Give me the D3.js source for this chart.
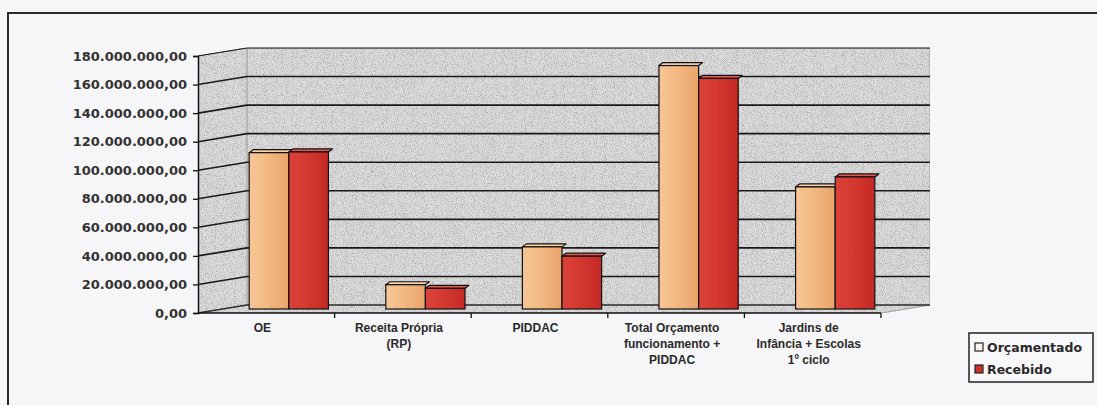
<!DOCTYPE html>
<html>
<head>
<meta charset="utf-8">
<script src="https://cdn.jsdelivr.net/npm/d3@7"></script>
<style>
  html, body { margin: 0; padding: 0; background: #f6f6f8; }
  svg { display: block; }
</style>
</head>
<body>
<svg id="chart" width="1097" height="405"></svg>
<script>
const categories = ["OE", "Receita Própria\n(RP)", "PIDDAC", "Total Orçamento\nfuncionamento +\nPIDDAC", "Jardins de\nInfância + Escolas\n1º ciclo"];
const seriesNames = ["Orçamentado", "Recebido"];
const orcamentado = [109500000, 17000000, 43500000, 170500000, 85500000];
const recebido = [110000000, 14500000, 37000000, 161500000, 92500000];
const yTicks = [0, 20000000, 40000000, 60000000, 80000000, 100000000, 120000000, 140000000, 160000000, 180000000];

const svg = d3.select("#chart");

const loc = d3.formatLocale({decimal: ",", thousands: ".", grouping: [3], currency: ["€", ""]});
const fmt = loc.format(",.2f");

// geometry
const x0 = 198, x1 = 881, yBase = 313, yTop = 56;
const DX = 49, DY = -8;
const x = d3.scaleBand().domain(categories).range([x0, x1]);
const y = d3.scaleLinear().domain([0, 180000000]).range([yBase, yTop]);
const xs = d3.scaleBand().domain(seriesNames).range([0, x.bandwidth() * 0.58]);

const defs = svg.append("defs");
const f = defs.append("filter").attr("id", "noise").attr("x", 0).attr("y", 0).attr("width", 1).attr("height", 1);
f.append("feTurbulence").attr("type", "fractalNoise").attr("baseFrequency", 1.1).attr("numOctaves", 2).attr("seed", 4).attr("result", "t");
f.append("feColorMatrix").attr("in", "t").attr("type", "matrix")
  .attr("values", "0 0 0 0 0.4  0 0 0 0 0.4  0 0 0 0 0.4  2.6 0 0 0 -1.1").attr("result", "n");
f.append("feComposite").attr("in", "n").attr("in2", "SourceGraphic").attr("operator", "in").attr("result", "n2");
f.append("feTurbulence").attr("type", "fractalNoise").attr("baseFrequency", 1.0).attr("numOctaves", 1).attr("seed", 9).attr("result", "t2");
f.append("feColorMatrix").attr("in", "t2").attr("type", "matrix")
  .attr("values", "0 0 0 0 1  0 0 0 0 1  0 0 0 0 1  3 0 0 0 -1.2").attr("result", "w");
f.append("feComposite").attr("in", "w").attr("in2", "SourceGraphic").attr("operator", "in").attr("result", "w2");
const fm = f.append("feMerge");
fm.append("feMergeNode").attr("in", "SourceGraphic");
fm.append("feMergeNode").attr("in", "w2");
fm.append("feMergeNode").attr("in", "n2");

function grad(id, stops) {
  const g = defs.append("linearGradient").attr("id", id).attr("x1", 0).attr("x2", 1).attr("y1", 0).attr("y2", 0);
  stops.forEach(s => g.append("stop").attr("offset", s[0]).attr("stop-color", s[1]));
}
grad("gO", [[0, "#f6c596"], [0.35, "#f4bd88"], [1, "#e8a46a"]]);
grad("gR", [[0, "#d9433a"], [0.4, "#d63a31"], [1, "#c32a24"]]);
const fills = {"Orçamentado": "url(#gO)", "Recebido": "url(#gR)"};
const topFills = {"Orçamentado": "#f9d3ad", "Recebido": "#e2584c"};

// outer frame
svg.append("path").attr("d", `M8,405 L8,13 L1097,13`).attr("fill", "none").attr("stroke", "#2a2a2a").attr("stroke-width", 2);

// walls
const P = (px, py, d) => [px + DX * d, py + DY * d];
const wallStyle = s => s.attr("fill", "#cdcdcd").attr("filter", "url(#noise)").attr("stroke", "#555").attr("stroke-width", 1);
wallStyle(svg.append("polygon").attr("points", [P(x0, yBase, 1), P(x1, yBase, 1), P(x1, yTop, 1), P(x0, yTop, 1)].join(" ")));
wallStyle(svg.append("polygon").attr("points", [P(x0, yBase, 0), P(x0, yBase, 1), P(x0, yTop, 1), P(x0, yTop, 0)].join(" ")));
wallStyle(svg.append("polygon").attr("points", [P(x0, yBase, 0), P(x1, yBase, 0), P(x1, yBase, 1), P(x0, yBase, 1)].join(" ")));

// gridlines
const grid = svg.append("g");
yTicks.forEach(t => {
  const yy = y(t);
  const a = P(x0, yy, 0), b = P(x0, yy, 1), c = P(x1, yy, 1);
  grid.append("path").attr("d", `M${a}L${b}L${c}`).attr("fill", "none")
    .attr("stroke", t === 0 ? "#333" : "#1a1a1a").attr("stroke-width", t === 180000000 ? 1 : 1.6);
});

// axes (front)
const yAxis = svg.append("g").attr("transform", `translate(${x0},0)`)
  .call(d3.axisLeft(y).tickValues(yTicks).tickFormat(fmt).tickSize(5).tickPadding(6));
yAxis.select(".domain").attr("stroke", "#111").attr("stroke-width", 1.5);
yAxis.selectAll(".tick line").attr("stroke", "#111").attr("stroke-width", 1.3);
yAxis.selectAll("text").attr("font-family", "DejaVu Sans").attr("font-weight", "bold").attr("font-size", 13).attr("fill", "#333");

const xAxis = svg.append("g").attr("transform", `translate(0,${yBase})`);
xAxis.append("line").attr("x1", x0).attr("x2", x1).attr("stroke", "#111").attr("stroke-width", 1.5);
categories.forEach((c, i) => {
  xAxis.append("line").attr("x1", x(c) + x.bandwidth()).attr("x2", x(c) + x.bandwidth()).attr("y1", 0).attr("y2", 5).attr("stroke", "#111").attr("stroke-width", 1.3);
});
const labels = svg.append("g");
categories.forEach(c => {
  const cx = x(c) + x.bandwidth() / 2 - 4;
  const t = labels.append("text").attr("x", cx).attr("y", 332)
    .attr("text-anchor", "middle").attr("font-family", "Liberation Sans, Arial").attr("font-weight", "bold")
    .attr("font-size", 12).attr("fill", "#2a2a2a");
  c.split("\n").forEach((line, k) => t.append("tspan").attr("x", cx).attr("dy", k === 0 ? 0 : 16).text(line));
});

// bars (at mid depth)
const bars = svg.append("g");
const dMid = 0.5, bdx = 4, bdy = -3;
categories.forEach((c, i) => {
  const vals = [orcamentado[i], recebido[i]];
  const gx = x(c) + (x.bandwidth() - xs.range()[1]) / 2;
  seriesNames.forEach((s, j) => {
    const bx = gx + xs(s) + DX * dMid - bdx / 2;
    const by0 = y(0) + DY * dMid;
    const by1 = y(vals[j]) + DY * dMid;
    const w = xs.bandwidth();
    bars.append("polygon")
      .attr("points", [[bx, by1], [bx + bdx, by1 + bdy], [bx + w + bdx, by1 + bdy], [bx + w, by1]].join(" "))
      .attr("fill", topFills[s]).attr("stroke", "#111").attr("stroke-width", 1.2).attr("stroke-linejoin", "round");
    bars.append("rect").attr("x", bx).attr("y", by1).attr("width", w).attr("height", by0 - by1)
      .attr("fill", fills[s]).attr("stroke", "#111").attr("stroke-width", 1.2);
  });
});

// legend
const lg = svg.append("g").attr("transform", "translate(969,333)");
lg.append("rect").attr("width", 124).attr("height", 49).attr("fill", "#f8f8fa").attr("stroke", "#222").attr("stroke-width", 1.5);
const lgFill = {"Orçamentado": "#faf3ec", "Recebido": "#c8302a"};
seriesNames.forEach((s, j) => {
  const yy = 15 + j * 22;
  lg.append("rect").attr("x", 6).attr("y", yy - 5).attr("width", 8).attr("height", 8)
    .attr("fill", lgFill[s]).attr("stroke", "#222").attr("stroke-width", 1.2);
  lg.append("text").attr("x", 18).attr("y", yy + 4).attr("font-family", "DejaVu Sans").attr("font-weight", "bold")
    .attr("font-size", 12.5).attr("fill", "#2a2a2a").text(s);
});
</script>
</body>
</html>
